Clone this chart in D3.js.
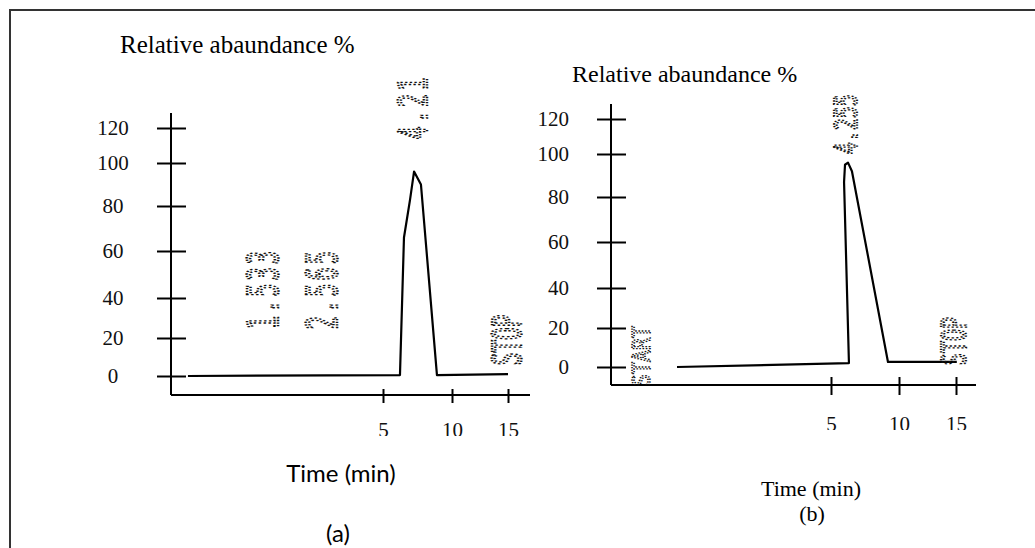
<!DOCTYPE html>
<html>
<head>
<meta charset="utf-8">
<script src="https://cdn.jsdelivr.net/npm/d3@7"></script>
<style>
  body { margin: 0; background: #fff; }
  svg { display: block; }
  .tick text { font-family: "Liberation Serif", "Times New Roman", serif; }
</style>
</head>
<body>
<svg id="viz" width="1035" height="548"></svg>
<script>
// tick labels
const yTicks = [0, 20, 40, 60, 80, 100, 120];
const xTicks = [5, 10, 15];

// chromatogram (a)
const timeA  = [0.4, 6.23, 6.52, 6.96, 7.25, 7.75, 8.91, 15];
const abundA = [0, 0.5, 66, 83, 96, 90, 0.5, 1];
// chromatogram (b)
const timeB  = [1.5, 6.32, 5.96, 6.03, 6.25, 6.54, 9.19, 15.07];
const abundB = [0, 2, 87, 95, 96, 92, 2.6, 2.6];

// printed peak labels (retention times / markers)
const peaksA = ["1.533", "2.565", "4.21", "STOP"];
const peakTimeA = [2.17, 3.56, 7.17, 14.9];
const peakAbundA = [44, 44, 132, 19];
const peaksB = ["START", "4.255", "STOP"];
const peakTimeB = [0.68, 6.1, 14.8];
const peakAbundB = [5.6, 117, 13.3];

const svg = d3.select("#viz");

// scanned frame
svg.append("path")
  .attr("d", "M10,548 V10 H1035")
  .attr("fill", "none").attr("stroke", "#333").attr("stroke-width", 2);

// hand drawn axes: tick spacing is uneven so the scales are piecewise
const panels = [
  { id: "a", time: timeA, abund: abundA, peaks: peaksA, pt: peakTimeA, pa: peakAbundA,
    xr: [171, 383, 452, 508], yr: [376, 338, 298, 251, 206, 163, 128],
    axX: 171, axTop: 113, axY: 395, axRight: 530, xClip: 436, xLab: 437,
    labX: 113, labAnchor: "middle", tickL: 14, tickR: 15, xTickUp: 6, xTickDn: 8,
    title: [120, 53, 25], timeLab: [341, 482, "Lato, sans-serif", 24], panLab: [338, 542],
    ann: [[22, 3, 1.9], [22, 3, 1.9], [22, 3, 1.8], [21, 0, 1.9]] },
  { id: "b", time: timeB, abund: abundB, peaks: peaksB, pt: peakTimeB, pa: peakAbundB,
    xr: [611, 831, 899, 956], yr: [367, 328, 288, 242, 197, 154, 119],
    axX: 611, axTop: 104, axY: 385, axRight: 976, xClip: 430, xLab: 431,
    labX: 569, labAnchor: "end", tickL: 14, tickR: 15, xTickUp: 8, xTickDn: 10,
    title: [572, 82, 24], timeLab: [811, 496, "Liberation Serif, serif", 22], panLab: [812, 521],
    ann: [[20, 0, 1.25], [20, 0, 1.6], [20, 0, 1.7]] }
];

panels.forEach(p => {
  const x = d3.scaleLinear().domain([0].concat(xTicks)).range(p.xr);
  const y = d3.scaleLinear().domain(yTicks).range(p.yr);
  const g = svg.append("g").attr("id", "panel_" + p.id);

  // y axis
  g.append("line")
    .attr("x1", p.axX).attr("x2", p.axX)
    .attr("y1", p.axTop).attr("y2", p.axY)
    .attr("stroke", "#000").attr("stroke-width", 2);
  const ya = g.append("g")
    .attr("transform", `translate(${p.axX},0)`)
    .call(d3.axisLeft(y).tickValues(yTicks).tickSizeInner(p.tickL).tickSizeOuter(0));
  ya.select(".domain").remove();
  ya.selectAll(".tick line").attr("x1", p.tickR).attr("stroke-width", 2).attr("stroke", "#000");
  ya.selectAll(".tick text")
    .attr("font-size", 21).attr("fill", "#111")
    .attr("x", p.labX - p.axX).attr("text-anchor", p.labAnchor);

  // x axis (labels are cut off by the scan, hence the clip)
  g.append("line")
    .attr("x1", p.axX).attr("x2", p.axRight)
    .attr("y1", p.axY).attr("y2", p.axY)
    .attr("stroke", "#000").attr("stroke-width", 2);
  g.append("clipPath").attr("id", "clipx_" + p.id)
    .append("rect").attr("x", p.axX).attr("y", 0).attr("width", 500).attr("height", p.xClip);
  const xa = g.append("g")
    .attr("clip-path", `url(#clipx_${p.id})`)
    .append("g")
    .attr("transform", `translate(0,${p.axY})`)
    .call(d3.axisBottom(x).tickValues(xTicks).tickSizeInner(p.xTickDn).tickSizeOuter(0));
  xa.select(".domain").remove();
  xa.selectAll(".tick line").attr("y1", -p.xTickUp).attr("stroke-width", 2).attr("stroke", "#000");
  xa.selectAll(".tick text")
    .attr("font-size", 21).attr("fill", "#111")
    .attr("dy", null).attr("y", p.xLab - p.axY);

  // trace
  const pts = d3.zip(p.time, p.abund);
  g.append("path")
    .datum(pts)
    .attr("d", d3.line().x(d => x(d[0])).y(d => y(d[1])))
    .attr("fill", "none").attr("stroke", "#000")
    .attr("stroke-width", 2.2).attr("stroke-linejoin", "round");

  // dot matrix peak labels, printed sideways
  p.peaks.forEach((lab, i) => {
    const a = p.ann[i];
    g.append("text")
      .attr("transform", `translate(${x(p.pt[i])},${y(p.pa[i])}) rotate(-90) scale(1,${a[2]})`)
      .attr("text-anchor", "middle").attr("dy", "0.36em")
      .attr("font-family", "DejaVu Sans Mono, monospace")
      .attr("font-size", a[0]).attr("letter-spacing", a[1])
      .attr("fill", "none").attr("stroke", "#111").attr("stroke-width", 1.3)
      .attr("stroke-dasharray", "1.3 1.3")
      .text(lab);
  });

  // titles
  g.append("text")
    .attr("x", p.title[0]).attr("y", p.title[1])
    .attr("font-family", "Liberation Serif, serif").attr("font-size", p.title[2])
    .text("Relative abaundance %");
  g.append("text")
    .attr("x", p.timeLab[0]).attr("y", p.timeLab[1])
    .attr("text-anchor", "middle")
    .attr("font-family", p.timeLab[2]).attr("font-size", p.timeLab[3])
    .text("Time (min)");
  g.append("text")
    .attr("x", p.panLab[0]).attr("y", p.panLab[1])
    .attr("text-anchor", "middle")
    .attr("font-family", p.timeLab[2]).attr("font-size", p.timeLab[3])
    .text(`(${p.id})`);
});
</script>
</body>
</html>
